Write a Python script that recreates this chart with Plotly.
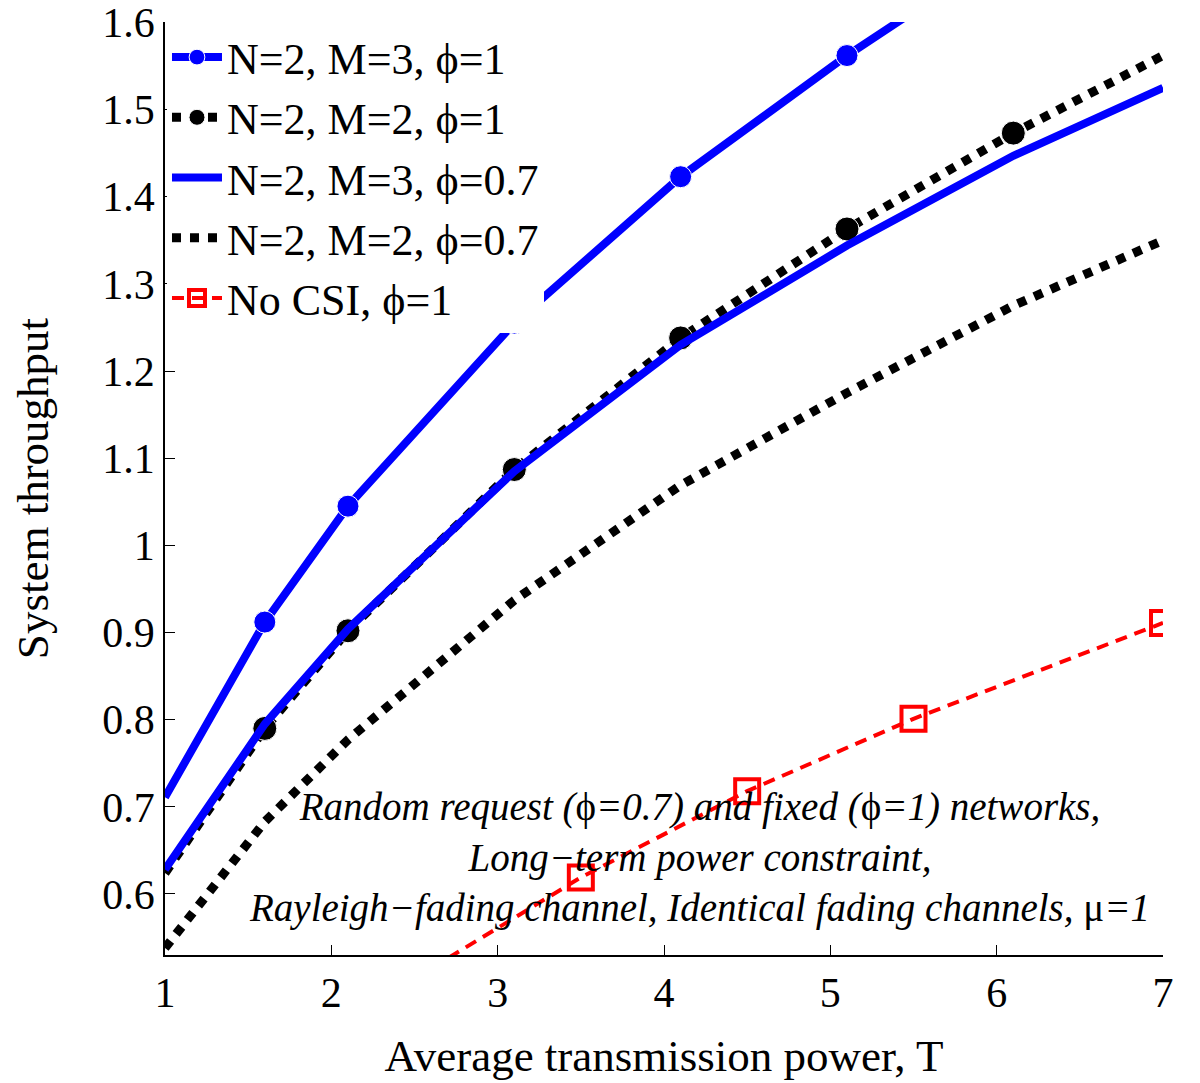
import plotly.graph_objects as go

# ---- data ----
x_blue1 = [1, 1.6, 2.1, 3.1, 4.1, 5.1, 5.6]
y_blue1 = [0.711, 0.912, 1.045, 1.255, 1.423, 1.562, 1.625]
m_blue1 = [0, 1, 1, 1, 1, 1, 0]

x_black1 = [1, 1.6, 2.1, 3.1, 4.1, 5.1, 6.1, 7]
y_black1 = [0.624, 0.790, 0.902, 1.087, 1.238, 1.363, 1.473, 1.562]
m_black1 = [0, 1, 1, 1, 1, 1, 1, 0]

x_blue2 = [1, 1.6, 2.1, 3.1, 4.1, 5.1, 6.1, 7]
y_blue2 = [0.628, 0.795, 0.904, 1.085, 1.230, 1.344, 1.447, 1.525]

x_black2 = [1, 1.6, 2.1, 3.1, 4.1, 5.1, 6.1, 7]
y_black2 = [0.538, 0.683, 0.777, 0.937, 1.069, 1.175, 1.275, 1.350]

x_red = [2.5, 3.5, 4.5, 5.5, 7]
y_red = [0.503, 0.619, 0.718, 0.801, 0.911]
m_red = [0, 1, 1, 1, 1]

names = ["N=2, M=3, ϕ=1", "N=2, M=2, ϕ=1", "N=2, M=3, ϕ=0.7",
         "N=2, M=2, ϕ=0.7", "No CSI, ϕ=1"]

x_ticks = [1, 2, 3, 4, 5, 6, 7]
x_ticktext = ["1", "2", "3", "4", "5", "6", "7"]
y_ticks = [0.6, 0.7, 0.8, 0.9, 1.0, 1.1, 1.2, 1.3, 1.4, 1.5, 1.6]
y_ticktext = ["0.6", "0.7", "0.8", "0.9", "1", "1.1", "1.2", "1.3", "1.4", "1.5", "1.6"]

FONT = "Liberation Serif"
BLUE = "#0000ff"

fig = go.Figure()

fig.add_trace(go.Scatter(
    x=x_blue1, y=y_blue1, name=names[0], mode="lines+markers",
    line=dict(color=BLUE, width=8),
    marker=dict(symbol="circle", color=BLUE, opacity=1,
                size=[22 * m for m in m_blue1]),
    legendgroup="a"))
fig.add_trace(go.Scatter(
    x=x_black1, y=y_black1, name=names[1], mode="lines+markers",
    line=dict(color="black", width=9, dash="dot"),
    marker=dict(symbol="circle", color="black", opacity=1,
                size=[24 * m for m in m_black1]),
    legendgroup="b"))
fig.add_trace(go.Scatter(
    x=x_blue2, y=y_blue2, name=names[2], mode="lines",
    line=dict(color=BLUE, width=8), legendgroup="c"))
fig.add_trace(go.Scatter(
    x=x_black2, y=y_black2, name=names[3], mode="lines",
    line=dict(color="black", width=9, dash="dot"), legendgroup="d"))
fig.add_trace(go.Scatter(
    x=x_red, y=y_red, name=names[4], mode="lines+markers",
    line=dict(color="#ff0000", width=4, dash="12px,8px"),
    marker=dict(symbol="square-open", color="#ff0000", opacity=1,
                size=[24 * m for m in m_red],
                line=dict(width=4, color="#ff0000")),
    legendgroup="e"))

fig.add_annotation(
    x=0.536, y=0.105, xref="paper", yref="paper", showarrow=False,
    align="center", xanchor="center", yanchor="middle",
    text=("<i>Random request (</i>ϕ<i>=0.7) and fixed (</i>ϕ<i>=1) networks,</i><br>"
          "<i>Long−term power constraint,</i><br>"
          "<i>Rayleigh−fading channel, Identical fading channels, </i>μ<i>=1</i>"),
    font=dict(family=FONT, size=39, color="black"))

fig.update_layout(
    width=1192, height=1075,
    margin=dict(l=157, r=37, t=14, b=128),
    plot_bgcolor="white", paper_bgcolor="white",
    font=dict(family=FONT, color="black"),
    showlegend=True,
    legend=dict(x=0.002, y=1, xanchor="left", yanchor="top",
                bgcolor="white", borderwidth=0,
                font=dict(family=FONT, size=44, color="black"),
                itemsizing="trace", tracegroupgap=0,
                itemwidth=50),
    xaxis=dict(range=[1, 7], tickvals=x_ticks, ticktext=x_ticktext,
               automargin=False, ticklabeloverflow="allow",
               showgrid=False, zeroline=False, showline=True, linecolor="black",
               linewidth=1.5, ticks="inside", ticklen=10, tickcolor="black",
               tickfont=dict(family=FONT, size=42),
               title=dict(text="Average transmission power, T",
                          font=dict(family=FONT, size=45), standoff=24)),
    yaxis=dict(range=[0.53, 1.6005], tickvals=y_ticks, ticktext=y_ticktext,
               automargin=False, ticklabeloverflow="allow",
               showgrid=False, zeroline=False, showline=True, linecolor="black",
               linewidth=1.5, ticks="inside", ticklen=10, tickcolor="black",
               tickfont=dict(family=FONT, size=42),
               title=dict(text="System throughput",
                          font=dict(family=FONT, size=45), standoff=60)),
)

fig.write_html("out.html")
